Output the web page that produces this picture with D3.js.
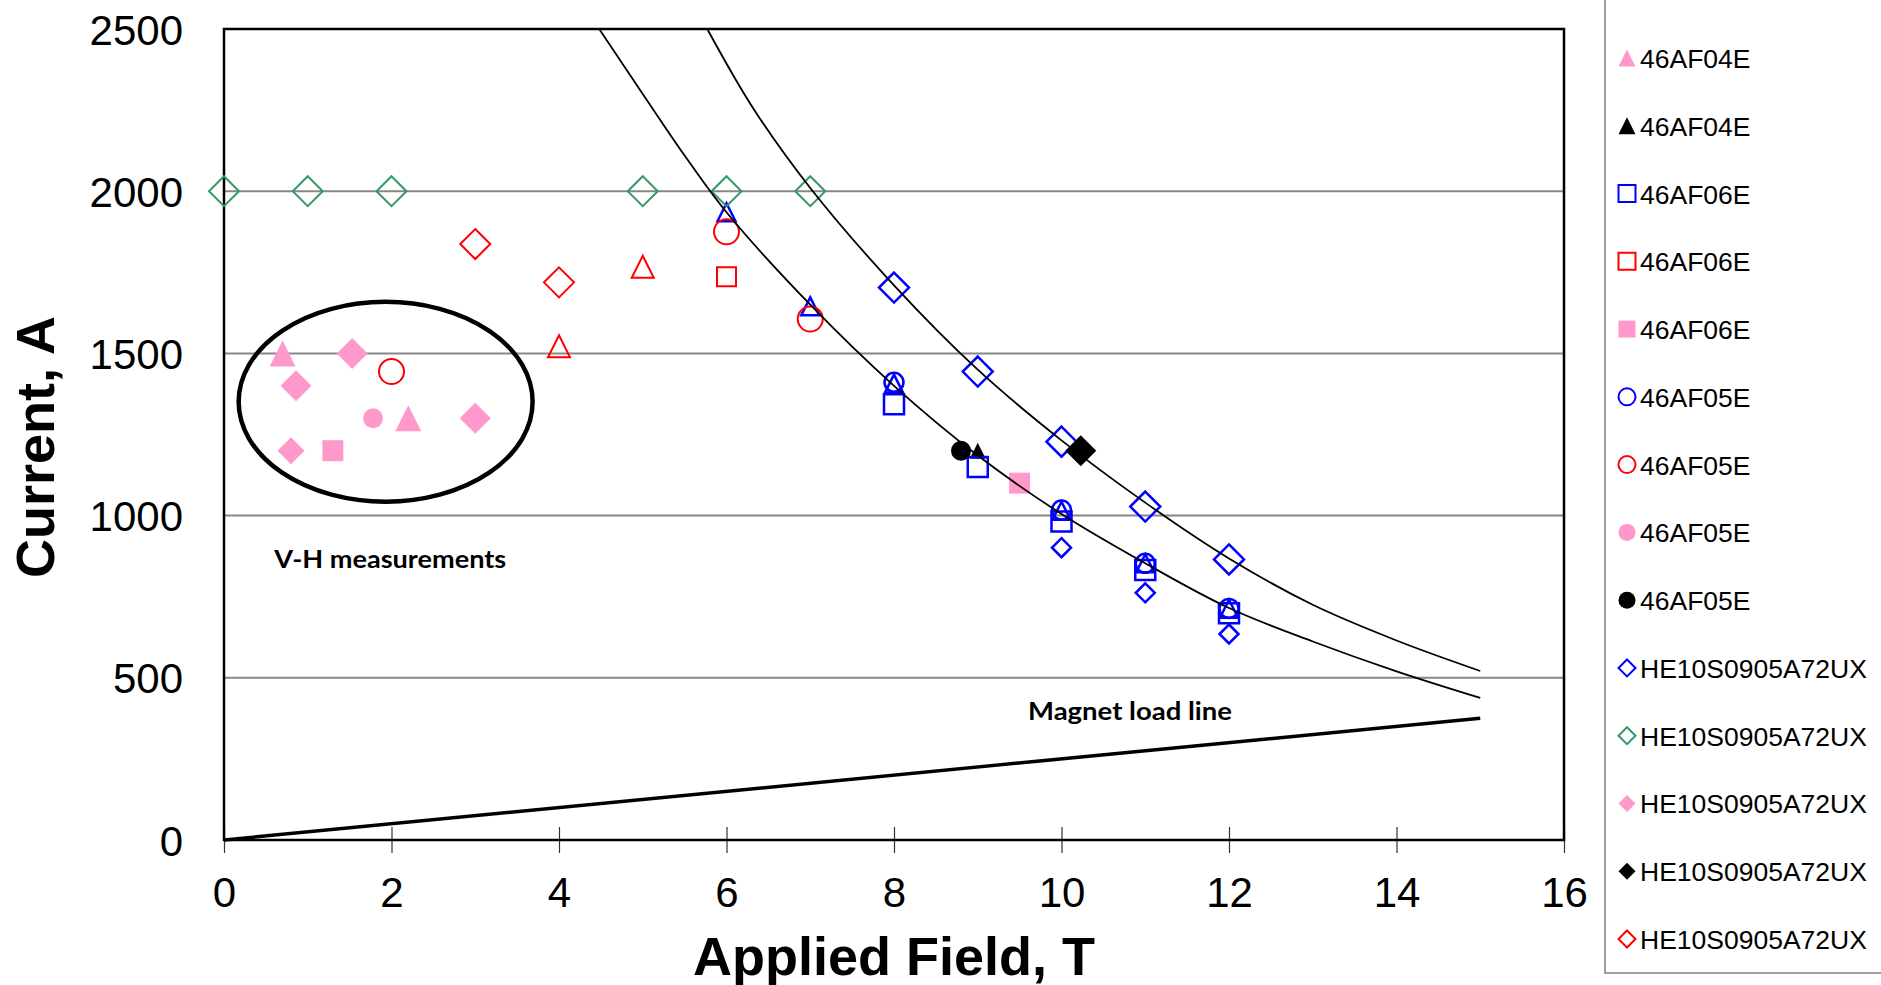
<!DOCTYPE html>
<html>
<head>
<meta charset="utf-8">
<script src="https://cdn.jsdelivr.net/npm/d3@7"></script>
<style>
    body { margin: 0; background: #fff; }
    text { font-family: "Liberation Sans", Arial, sans-serif; }
</style>
</head>
<body>
<script>
// tick labels
var fieldTicks = [0, 2, 4, 6, 8, 10, 12, 14, 16];
var currentTicks = [0, 500, 1000, 1500, 2000, 2500];

// measured points, [applied field T, current A]
var pinkTri = [[0.7, 1500], [2.2, 1300]];
var blackTri = [[9.0, 1200]];
var blueSquare = [[8, 1343], [9, 1150], [10, 982], [11, 832], [12, 699]];
var redSquare = [[6, 1736]];
var pinkSquare = [[1.3, 1200], [9.5, 1100]];
var blueCircle = [[8, 1411], [10, 1017], [11, 853], [12, 714]];
var redCircle = [[2, 1444], [6, 1875], [7, 1606]];
var pinkCircle = [[1.78, 1300]];
var blackCircle = [[8.8, 1200]];
var blueDiamond = [[8, 1703], [9, 1444], [10, 1228], [11, 1028], [12, 865]];
var blueDiamondSmall = [[10, 901], [11, 762], [12, 635]];
var greenDiamond = [[0, 2000], [1, 2000], [2, 2000], [5, 2000], [6, 2000], [7, 2000]];
var pinkDiamond = [[0.86, 1400], [1.53, 1500], [3, 1300]];
var pinkDiamondSmall = [[0.8, 1200]];
var blackDiamond = [[10.23, 1200]];
var redDiamond = [[3, 1837], [4, 1719]];
var redTri = [[4, 1522], [5, 1767]];
var blueTri = [[6, 1935], [7, 1645], [8, 1407], [10, 1015], [11, 853], [12, 713]];

// fitted Ic curves and magnet load line
var lowerCurve = [[4.48, 2500], [5, 2300], [5.5, 2110], [6, 1935], [7, 1650], [8, 1400], [9, 1185],
    [10, 1005], [11, 853], [12, 715], [13, 612], [14, 520], [15, 438]];
var upperCurve = [[5.77, 2500], [6.32, 2255], [7, 2010], [8, 1710], [9, 1450], [10, 1232],
    [11, 1040], [12, 868], [13, 725], [14, 615], [15, 521]];
var loadLine = [[0, 0], [15, 375]];

// legend names (visible part of the legend)
var legendNames = ["46AF04E", "46AF04E", "46AF06E", "46AF06E", "46AF06E",
    "46AF05E", "46AF05E", "46AF05E", "46AF05E",
    "HE10S0905A72UX", "HE10S0905A72UX", "HE10S0905A72UX", "HE10S0905A72UX", "HE10S0905A72UX"];

var pink = "#FF99CC", green = "#339966", blue = "#0000FF", red = "#FF0000";

// series table: data + marker style, legend = row in the legend
var series = [
    { pts: redTri, shape: "tri", color: red, fill: false, size: 22, legend: -1 },
    { pts: blueTri, shape: "tri", color: blue, fill: false, size: 18, legend: -1 },
    { pts: pinkTri, shape: "tri", color: pink, fill: true, size: 26, legend: 0 },
    { pts: blackTri, shape: "tri", color: "#000", fill: true, size: 16, legend: 1 },
    { pts: blueSquare, shape: "square", color: blue, fill: false, size: 20, legend: 2 },
    { pts: redSquare, shape: "square", color: red, fill: false, size: 19, legend: 3 },
    { pts: pinkSquare, shape: "square", color: pink, fill: true, size: 21, legend: 4 },
    { pts: blueCircle, shape: "circle", color: blue, fill: false, size: 19, legend: 5 },
    { pts: redCircle, shape: "circle", color: red, fill: false, size: 25, legend: 6 },
    { pts: pinkCircle, shape: "circle", color: pink, fill: true, size: 20, legend: 7 },
    { pts: blackCircle, shape: "circle", color: "#000", fill: true, size: 20, legend: 8 },
    { pts: blueDiamond, shape: "diamond", color: blue, fill: false, size: 30, legend: 9 },
    { pts: blueDiamondSmall, shape: "diamond", color: blue, fill: false, size: 19, legend: -1 },
    { pts: greenDiamond, shape: "diamond", color: green, fill: false, size: 30, legend: 10 },
    { pts: pinkDiamond, shape: "diamond", color: pink, fill: true, size: 31, legend: 11 },
    { pts: pinkDiamondSmall, shape: "diamond", color: pink, fill: true, size: 27, legend: -1 },
    { pts: blackDiamond, shape: "diamond", color: "#000", fill: true, size: 31, legend: 12 },
    { pts: redDiamond, shape: "diamond", color: red, fill: false, size: 30, legend: 13 }
];

// marker outline centred on (0,0), s = full width
function markerPath(shape, s) {
    var h = s / 2;
    if (shape == "tri") return "M0," + (-h) + "L" + h + "," + h + "L" + (-h) + "," + h + "Z";
    if (shape == "diamond") return "M0," + (-h) + "L" + h + ",0L0," + h + "L" + (-h) + ",0Z";
    if (shape == "square") return "M" + (-h) + "," + (-h) + "h" + s + "v" + s + "h" + (-s) + "Z";
    return d3.arc()({ innerRadius: 0, outerRadius: h, startAngle: 0, endAngle: 2 * Math.PI });
}

window.onload = function(){
    var svg = d3.select("body")
        .append("svg")
        .attr("width", 1881)
        .attr("height", 985);

    var x = d3.scaleLinear().domain([0, 16]).range([224, 1564]);
    var y = d3.scaleLinear().domain([0, 2500]).range([840, 29]);

    // horizontal gridlines
    svg.selectAll(".grid")
        .data(currentTicks.slice(1, -1))
        .enter()
        .append("line")
        .attr("x1", x(0)).attr("x2", x(16))
        .attr("y1", function(d){ return y(d); })
        .attr("y2", function(d){ return y(d); })
        .style("stroke", "#878787")
        .style("stroke-width", 2);

    // x axis, ticks cross the axis line
    var xAxis = svg.append("g")
        .attr("transform", "translate(0," + y(0) + ")")
        .call(d3.axisBottom(x).tickValues(fieldTicks).tickSizeInner(13).tickSizeOuter(0));
    xAxis.select(".domain").remove();
    xAxis.selectAll("line").attr("y1", -13).style("stroke", "#333").style("stroke-width", 1.2);
    xAxis.selectAll("text")
        .attr("y", 67).attr("dy", null)
        .style("font-size", "42px")
        .style("font-family", "'Liberation Sans', Arial, sans-serif")
        .style("fill", "#000");

    // y axis, labels only
    var yAxis = svg.append("g")
        .attr("transform", "translate(" + x(0) + ",0)")
        .call(d3.axisLeft(y).tickValues(currentTicks).tickFormat(d3.format("d")).tickSize(0).tickPadding(41));
    yAxis.select(".domain").remove();
    yAxis.selectAll("text")
        .attr("dy", "0.36em")
        .style("font-size", "42px")
        .style("font-family", "'Liberation Sans', Arial, sans-serif")
        .style("fill", "#000");

    // plot frame
    svg.append("rect")
        .attr("x", x(0)).attr("y", y(2500))
        .attr("width", x(16) - x(0)).attr("height", y(0) - y(2500))
        .style("fill", "none")
        .style("stroke", "#000")
        .style("stroke-width", 2.5);

    // markers
    series.forEach(function(s){
        svg.append("g").selectAll("path")
            .data(s.pts)
            .enter()
            .append("path")
            .attr("transform", function(d){ return "translate(" + x(d[0]) + "," + y(d[1]) + ")"; })
            .attr("d", markerPath(s.shape, s.size))
            .style("fill", s.fill ? s.color : "none")
            .style("stroke", s.fill ? "none" : s.color)
            .style("stroke-width", s.color == blue ? 2.5 : 2);
    });

    // Ic curves and load line
    var line = d3.line()
        .x(function(d){ return x(d[0]); })
        .y(function(d){ return y(d[1]); })
        .curve(d3.curveCatmullRom);
    [lowerCurve, upperCurve].forEach(function(c){
        svg.append("path").datum(c)
            .attr("d", line)
            .style("fill", "none").style("stroke", "#000").style("stroke-width", 1.8);
    });
    svg.append("path").datum(loadLine)
        .attr("d", line)
        .style("fill", "none").style("stroke", "#000").style("stroke-width", 3.5);

    // annotations
    svg.append("ellipse")
        .attr("cx", x(1.93)).attr("cy", y(1351))
        .attr("rx", x(1.755) - x(0)).attr("ry", y(0) - y(308))
        .style("fill", "none").style("stroke", "#000").style("stroke-width", 4.5);

    svg.append("text")
        .attr("x", x(0.6)).attr("y", y(838))
        .attr("textLength", 232).attr("lengthAdjust", "spacingAndGlyphs")
        .style("font-family", "Lato, 'Open Sans', sans-serif")
        .style("font-weight", "bold").style("font-size", "24px")
        .text("V-H measurements");

    svg.append("text")
        .attr("x", x(9.6)).attr("y", y(370))
        .attr("textLength", 204).attr("lengthAdjust", "spacingAndGlyphs")
        .style("font-family", "Lato, 'Open Sans', sans-serif")
        .style("font-weight", "bold").style("font-size", "24px")
        .text("Magnet load line");

    // axis titles
    svg.append("text")
        .attr("x", (x(0) + x(16)) / 2).attr("y", 975)
        .attr("text-anchor", "middle")
        .style("font-weight", "bold").style("font-size", "54px")
        .text("Applied Field, T");

    svg.append("text")
        .attr("transform", "translate(54,447) rotate(-90)")
        .attr("text-anchor", "middle")
        .style("font-weight", "bold").style("font-size", "54px")
        .text("Current, A");

    // legend (top is cut off by the picture edge)
    svg.append("rect")
        .attr("x", 1605).attr("y", -20)
        .attr("width", 400).attr("height", 993)
        .style("fill", "#fff")
        .style("stroke", "#808080")
        .style("stroke-width", 1.5);

    var rowY = d3.scaleLinear().domain([0, 13]).range([58, 939]);
    var entries = series.filter(function(s){ return s.legend >= 0; });
    var rows = svg.selectAll(".legendRow")
        .data(entries)
        .enter()
        .append("g")
        .attr("class", "legendRow")
        .attr("transform", function(d){ return "translate(1627," + rowY(d.legend) + ")"; });
    rows.append("path")
        .attr("d", function(d){ return markerPath(d.shape, 17); })
        .style("fill", function(d){ return d.fill ? d.color : "none"; })
        .style("stroke", function(d){ return d.fill ? "none" : d.color; })
        .style("stroke-width", 2);
    rows.append("text")
        .attr("x", 13).attr("y", 10)
        .style("font-size", "26.5px")
        .text(function(d){ return legendNames[d.legend]; });
};
</script>
</body>
</html>
